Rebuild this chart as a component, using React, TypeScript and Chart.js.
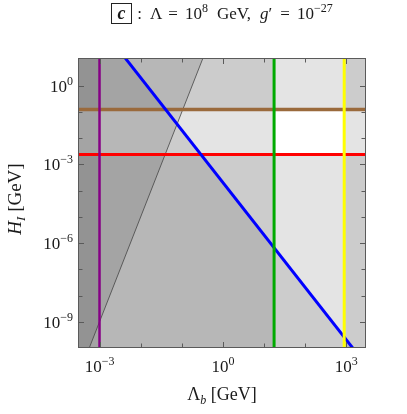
import React, { useEffect, useRef } from 'react';
import { Chart, registerables } from 'chart.js';
Chart.register(...registerables);

// ---- axis ranges ----
const X_RANGE = [3.47e-4, 3.0e3];
const Y_RANGE = [1.0e-10, 11.5];

// ---- tick values ----
const xMajorTicks = [1e-3, 1e0, 1e3];
const xMajorExp = ['−3', '0', '3'];
const xMinorTicks = [1e-2, 1e-1, 1e1, 1e2];
const yMajorTicks = [1e0, 1e-3, 1e-6, 1e-9];
const yMajorExp = ['0', '−3', '−6', '−9'];
const yMinorTicks = [1e-1, 1e-2, 1e-4, 1e-5, 1e-7, 1e-8];

// ---- constraint values ----
const purpleLambda = 1.0e-3;
const greenLambda = 17.5;
const yellowLambda = 885;
const brownH = 0.124;
const redH = 2.4e-3;
// blue line endpoints (H ∝ Λ_b^-2)
const blueLambda = [1e-4, 1e4];
const blueH = [2.04e4, 2.04e-12];
// thin black line endpoints (H ∝ Λ_b^4)
const thinLambda = [1e-4, 1e0];
const thinH = [1e-13, 1e3];

// far extents used to close the shaded regions
const FAR_X = [1e-5, 1e5];
const FAR_Y = [1e-14, 1e4];

const SHADE = 'rgba(0,0,0,0.105)';
const SERIF = '"Liberation Serif", "Times New Roman", serif';

type P = { x: number; y: number };

function region(points: P[]) {
  return {
    data: points,
    fill: 'shape',
    backgroundColor: SHADE,
    borderColor: 'transparent',
    borderWidth: 0,
    pointRadius: 0,
    tension: 0,
  };
}

function line(points: P[], color: string, width: number) {
  return {
    data: points,
    fill: false,
    borderColor: color,
    borderWidth: width,
    pointRadius: 0,
    tension: 0,
  };
}

type Seg = { t: string; font: string; dy: number; gap?: number };

function drawSegs(ctx: CanvasRenderingContext2D, segs: Seg[], x: number, y: number, align: 'left' | 'center' | 'right') {
  let total = 0;
  const widths = segs.map((s) => {
    ctx.font = s.font;
    const w = ctx.measureText(s.t).width + (s.gap || 0);
    total += w;
    return w;
  });
  let cx = align === 'left' ? x : align === 'center' ? x - total / 2 : x - total;
  ctx.textAlign = 'left';
  ctx.textBaseline = 'alphabetic';
  segs.forEach((s, i) => {
    ctx.font = s.font;
    ctx.fillText(s.t, cx, y + s.dy);
    cx += widths[i];
  });
  return total;
}

function pow10(exp: string): Seg[] {
  return [
    { t: '10', font: `17px ${SERIF}`, dy: 0 },
    { t: exp, font: `12px ${SERIF}`, dy: -7 },
  ];
}

const decorPlugin = {
  id: 'decor',
  afterDatasetsDraw(chart: any) {
    const { ctx, chartArea: a, scales } = chart;
    const xs = scales.x;
    const ys = scales.y;
    ctx.save();
    // frame
    ctx.strokeStyle = '#5a5a5a';
    ctx.lineWidth = 1;
    ctx.strokeRect(a.left + 0.5, a.top + 0.5, a.right - a.left - 1, a.bottom - a.top - 1);
    // ticks
    const tick = (px: number, len: number, horiz: boolean) => {
      ctx.beginPath();
      if (horiz) {
        const x = Math.round(px) + 0.5;
        ctx.moveTo(x, a.bottom);
        ctx.lineTo(x, a.bottom - len);
        ctx.moveTo(x, a.top);
        ctx.lineTo(x, a.top + len);
      } else {
        const y = Math.round(px) + 0.5;
        ctx.moveTo(a.left, y);
        ctx.lineTo(a.left + len, y);
        ctx.moveTo(a.right, y);
        ctx.lineTo(a.right - len, y);
      }
      ctx.stroke();
    };
    xMajorTicks.forEach((v) => tick(xs.getPixelForValue(v), 6, true));
    xMinorTicks.forEach((v) => tick(xs.getPixelForValue(v), 4.5, true));
    yMajorTicks.forEach((v) => tick(ys.getPixelForValue(v), 6, false));
    yMinorTicks.forEach((v) => tick(ys.getPixelForValue(v), 4.5, false));

    // tick labels
    ctx.fillStyle = '#1a1a1a';
    xMajorTicks.forEach((v, i) => {
      drawSegs(ctx, pow10(xMajorExp[i]), xs.getPixelForValue(v), a.bottom + 24, 'center');
    });
    yMajorTicks.forEach((v, i) => {
      drawSegs(ctx, pow10(yMajorExp[i]), a.left - 5, ys.getPixelForValue(v) + 6, 'right');
    });

    // x-axis title
    const cxm = (a.left + a.right) / 2;
    drawSegs(
      ctx,
      [
        { t: 'Λ', font: `18px ${SERIF}`, dy: 0 },
        { t: 'b', font: `italic 12px ${SERIF}`, dy: 4 },
        { t: ' [GeV]', font: `18px ${SERIF}`, dy: 0 },
      ],
      cxm,
      a.bottom + 52,
      'center'
    );

    // y-axis title
    ctx.save();
    ctx.translate(21, (a.top + a.bottom) / 2 - 4);
    ctx.rotate(-Math.PI / 2);
    drawSegs(
      ctx,
      [
        { t: 'H', font: `italic 19px ${SERIF}`, dy: 0 },
        { t: 'I', font: `italic 13px ${SERIF}`, dy: 4 },
        { t: ' [GeV]', font: `19px ${SERIF}`, dy: 0 },
      ],
      0,
      0,
      'center'
    );
    ctx.restore();

    // title
    const F = `17px ${SERIF}`;
    const FS = `12px ${SERIF}`;
    const segs: Seg[] = [
      { t: ':', font: F, dy: 0, gap: 8 },
      { t: 'Λ', font: F, dy: 0, gap: 6 },
      { t: '=', font: F, dy: 0, gap: 7 },
      { t: '10', font: F, dy: 0 },
      { t: '8', font: FS, dy: -7, gap: 9 },
      { t: 'GeV,', font: F, dy: 0, gap: 9 },
      { t: 'g', font: `italic 17px ${SERIF}`, dy: 0 },
      { t: '′', font: F, dy: 0, gap: 8 },
      { t: '=', font: F, dy: 0, gap: 7 },
      { t: '10', font: F, dy: 0 },
      { t: '−27', font: FS, dy: -7 },
    ];
    const boxW = 20;
    const boxGap = 6;
    let tw = 0;
    segs.forEach((s) => {
      ctx.font = s.font;
      tw += ctx.measureText(s.t).width + (s.gap || 0);
    });
    const startX = cxm - (boxW + boxGap + tw) / 2;
    const baseY = 19;
    ctx.strokeStyle = '#222';
    ctx.lineWidth = 1;
    ctx.strokeRect(Math.round(startX) + 0.5, 3.5, boxW, 20);
    ctx.font = `bold italic 18px ${SERIF}`;
    ctx.textAlign = 'center';
    ctx.fillText('c', Math.round(startX) + boxW / 2 + 0.5, baseY);
    drawSegs(ctx, segs, startX + boxW + boxGap, baseY, 'left');
    ctx.restore();
  },
};

export default function App() {
  const ref = useRef<HTMLCanvasElement>(null);
  useEffect(() => {
    if (!ref.current) return;
    const [x0, x1] = FAR_X;
    const [y0, y1] = FAR_Y;
    const datasets: any[] = [
      // lines (top-most first)
      line([{ x: purpleLambda, y: y0 }, { x: purpleLambda, y: y1 }], '#850085', 2.5),
      line([{ x: greenLambda, y: y0 }, { x: greenLambda, y: y1 }], '#00aa00', 3),
      line([{ x: yellowLambda, y: y0 }, { x: yellowLambda, y: y1 }], '#ffff00', 3),
      line([{ x: blueLambda[0], y: blueH[0] }, { x: blueLambda[1], y: blueH[1] }], '#0000ff', 3),
      line([{ x: x0, y: redH }, { x: x1, y: redH }], '#ff0000', 3),
      line([{ x: x0, y: brownH }, { x: x1, y: brownH }], '#9a6a3c', 3.5),
      line([{ x: thinLambda[0], y: thinH[0] }, { x: thinLambda[1], y: thinH[1] }], '#444444', 0.8),
      // shaded exclusion regions
      region([{ x: x0, y: y0 }, { x: purpleLambda, y: y0 }, { x: purpleLambda, y: y1 }, { x: x0, y: y1 }]),
      region([{ x: x0, y: y0 }, { x: greenLambda, y: y0 }, { x: greenLambda, y: y1 }, { x: x0, y: y1 }]),
      region([{ x: yellowLambda, y: y0 }, { x: x1, y: y0 }, { x: x1, y: y1 }, { x: yellowLambda, y: y1 }]),
      region([{ x: x0, y: brownH }, { x: x1, y: brownH }, { x: x1, y: y1 }, { x: x0, y: y1 }]),
      region([{ x: x0, y: y0 }, { x: x1, y: y0 }, { x: x1, y: redH }, { x: x0, y: redH }]),
      region([
        { x: blueLambda[0], y: blueH[0] },
        { x: blueLambda[1], y: blueH[1] },
        { x: blueLambda[1], y: y0 },
        { x: blueLambda[0], y: y0 },
      ]),
      region([
        { x: thinLambda[0], y: thinH[0] },
        { x: thinLambda[1], y: thinH[1] },
        { x: thinLambda[0], y: thinH[1] },
      ]),
    ];
    const chart = new Chart(ref.current, {
      type: 'line',
      data: { datasets },
      options: {
        animation: false,
        responsive: false,
        parsing: true,
        layout: { padding: { left: 78, right: 41, top: 58, bottom: 66 } },
        plugins: { legend: { display: false }, tooltip: { enabled: false } },
        scales: {
          x: { type: 'logarithmic', min: X_RANGE[0], max: X_RANGE[1], display: false },
          y: { type: 'logarithmic', min: Y_RANGE[0], max: Y_RANGE[1], display: false },
        },
      } as any,
      plugins: [decorPlugin],
    });
    return () => chart.destroy();
  }, []);
  return (
    <div style={{ position: 'absolute', left: 0, top: 0, width: 407, height: 414, background: '#fff' }}>
      <canvas ref={ref} width={407} height={414} style={{ display: 'block' }} />
    </div>
  );
}
